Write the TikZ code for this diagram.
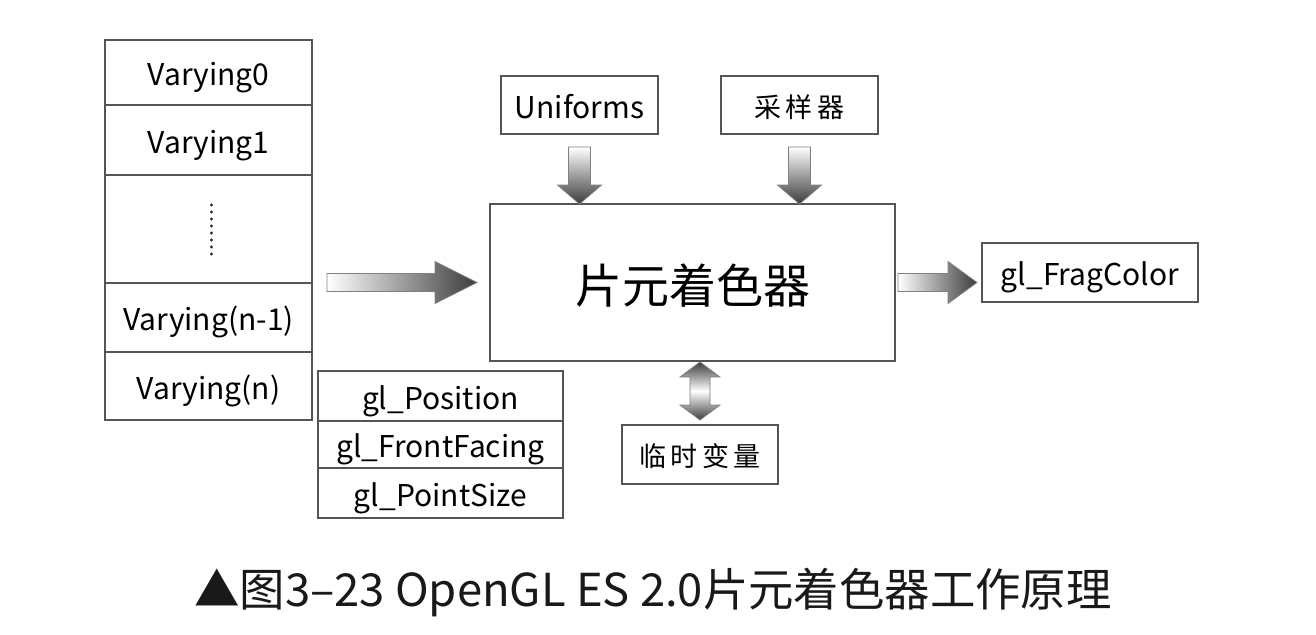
\documentclass[tikz,border=0pt]{standalone}
\usepackage{fontspec}
\setmainfont{Noto Sans CJK SC}
\usetikzlibrary{positioning,calc}
\definecolor{boxline}{RGB}{85,85,85}
\definecolor{arrowdark}{RGB}{60,60,60}

% block arrows drawn between two points
\newcommand{\rightblock}[3]{%
  \shadedraw[blockarrow, left color=white, right color=arrowdark]
    let \p1=(#1), \p2=(#2) in
    (\x1,\y1+4.5pt) -- (\x2-#3,\y1+4.5pt) -- (\x2-#3,\y1+10.5pt) -- (\x2,\y1)
    -- (\x2-#3,\y1-10.5pt) -- (\x2-#3,\y1-4.5pt) -- (\x1,\y1-4.5pt) -- cycle;}
\newcommand{\downblock}[2]{%
  \shadedraw[blockarrow, top color=white, bottom color=arrowdark]
    let \p1=(#1), \p2=(#2) in
    (\x1-5.5pt,\y1) -- (\x1-5.5pt,\y2+9.5pt) -- (\x1-11pt,\y2+9.5pt) -- (\x1,\y2)
    -- (\x1+11pt,\y2+9.5pt) -- (\x1+5.5pt,\y2+9.5pt) -- (\x1+5.5pt,\y1) -- cycle;}
\newcommand{\bothblock}[2]{%
  \shadedraw[blockarrow, top color=arrowdark, bottom color=arrowdark, middle color=white]
    let \p1=(#1), \p2=(#2) in
    (\x1,\y1) -- (\x1+10pt,\y1-7.5pt) -- (\x1+5pt,\y1-7.5pt) -- (\x1+5pt,\y2+7.5pt)
    -- (\x1+10pt,\y2+7.5pt) -- (\x1,\y2) -- (\x1-10pt,\y2+7.5pt) -- (\x1-5pt,\y2+7.5pt)
    -- (\x1-5pt,\y1-7.5pt) -- (\x1-10pt,\y1-7.5pt) -- cycle;}

\begin{document}
\begin{tikzpicture}[
x=0.5pt, y=-0.5pt,
cell/.style={draw=boxline, line width=0.75pt, inner sep=0pt, outer sep=0pt,
  text height=13pt, text depth=0pt,
  minimum width=103.5pt, font=\fontsize{15}{18}\selectfont},
cjkcell/.style={cell, font=\fontsize{13.5}{16}\selectfont, text height=12pt},
blockarrow/.style={draw=gray, line width=0.4pt},
]
\useasboundingbox (0,0) rectangle (1316,634);

% varyings on the left
\node[cell, minimum height=32.5pt] (v0) at (208.5,72.5) {Varying0};
\node[cell, minimum height=35pt, below=0pt of v0] (v1) {Varying1};
\node[cell, minimum height=54pt, below=0pt of v1] (vdots) {};
\node[cell, minimum height=34.5pt, below=0pt of vdots] (vn1) {Varying(n-1)};
\node[cell, minimum height=34pt, below=0pt of vn1] (vn) {Varying(n)};
\foreach \k in {0,...,7}
  \fill[black!85] ($(vdots.center)+(1.5pt,-12.5pt+\k*3.5pt)$) circle (0.8pt);

% built-in inputs
\node[cell, minimum width=122.5pt, minimum height=25pt] (pos) at (440.5,396) {gl\_Position};
\node[cell, minimum width=122.5pt, minimum height=23.5pt, below=0pt of pos] (front) {gl\_FrontFacing};
\node[cell, minimum width=122.5pt, minimum height=25pt, below=0pt of front] (psize) {gl\_PointSize};

% shader and its neighbours
\node[cell, minimum width=202.5pt, minimum height=78.5pt, font=\fontsize{23.5}{26}\selectfont, text height=21pt] (shader) at (692.5,282.5) {片元着色器};
\node[cell, minimum width=78.5pt, minimum height=29pt] (unif) at (579.5,105) {Uniforms};
\node[cjkcell, minimum width=78.5pt, minimum height=29pt] (sampler) at (799.5,105) {采\,样\,器};
\node[cell, minimum width=108pt, minimum height=29.5pt] (frag) at (1090,272.5) {gl\_FragColor};
\node[cjkcell, minimum width=78pt, minimum height=29.5pt] (temp) at (700,454.5) {临\,时\,变\,量};

% arrows
\rightblock{$(v0.east |- shader.west)+(7.5pt,0)$}{$(shader.west)+(-6.5pt,0)$}{21pt}
\rightblock{$(shader.east)+(1.5pt,0)$}{$(shader.east -| frag.west)+(-2.5pt,0)$}{14.5pt}
\downblock{$(unif.south)+(0,-6.5pt)$}{unif.south |- shader.north}
\downblock{$(sampler.south)+(0,-6.5pt)$}{sampler.south |- shader.north}
\bothblock{$(temp.north |- shader.south)+(0,-0.5pt)$}{$(temp.north)+(0,2.5pt)$}

% caption
\node[font=\fontsize{22.7}{26}\selectfont, text=black!90] (caption) at (653,592)
  {▲图3–23 OpenGL ES 2.0片元着色器工作原理};
\end{tikzpicture}
\end{document}
